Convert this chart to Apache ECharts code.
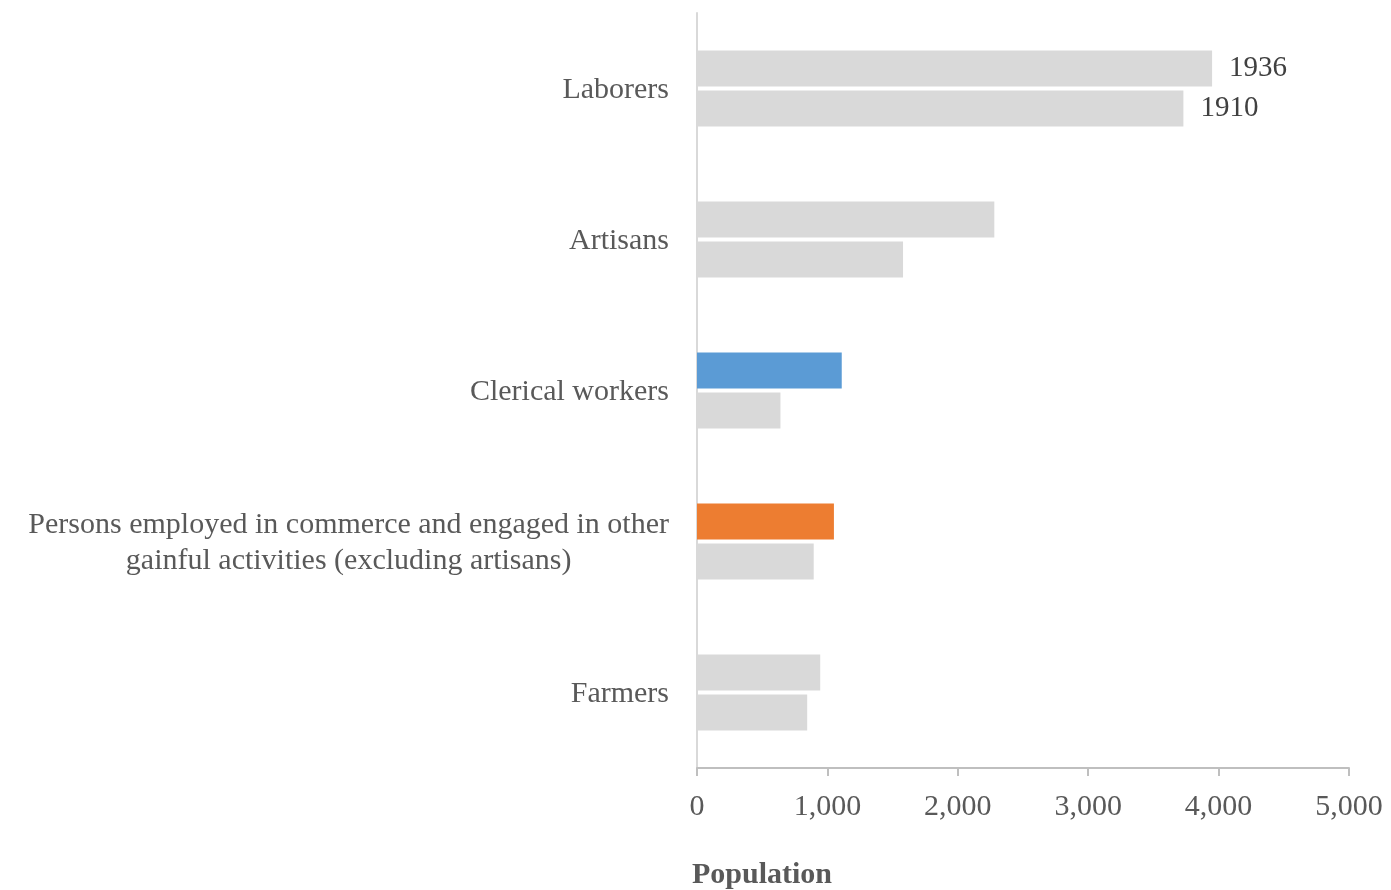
<!DOCTYPE html>
<html>
<head>
<meta charset="utf-8">
<script src="https://cdn.jsdelivr.net/npm/echarts@6/dist/echarts.min.js"></script>
<style>
  html, body { margin: 0; padding: 0; background: #ffffff; }
  #chart { width: 1391px; height: 890px; }
</style>
</head>
<body>
<div id="chart"></div>
<script>
// Occupational groups, top to bottom
const categories = [
  'Laborers',
  'Artisans',
  'Clerical workers',
  'Persons employed in commerce and engaged in other\ngainful activities (excluding artisans)',
  'Farmers'
];
const seriesNames = ['1936', '1910'];
const values1936 = [3950, 2280, 1110, 1050, 945];
const values1910 = [3730, 1580, 640, 895, 845];
const xTicks = [0, 1000, 2000, 3000, 4000, 5000];

const GREY = '#d9d9d9';
const TEXT = '#595959';
const FONT = '"Liberation Serif", "DejaVu Serif", serif';

// Highlighted bars in the 1936 series
const highlight1936 = { 2: '#5b9bd5', 3: '#ed7d31' };

function barData(values, colors) {
  return values.map((v, i) => ({
    value: v,
    itemStyle: { color: (colors && colors[i]) || GREY }
  }));
}

// Only the first group carries the year labels
function yearLabel(name) {
  return {
    show: true,
    position: 'right',
    distance: 17,
    color: '#404040',
    fontFamily: FONT,
    fontSize: 29,
    formatter: (p) => (p.dataIndex === 0 ? name : '')
  };
}

const chart = echarts.init(document.getElementById('chart'));
chart.setOption({
  animation: false,
  backgroundColor: '#ffffff',
  title: {
    text: 'Population',
    left: 687,
    top: 855,
    textStyle: { fontFamily: FONT, fontSize: 30, fontWeight: 'bold', color: TEXT }
  },
  grid: { left: 697, right: 42, top: 13, bottom: 122 },
  xAxis: {
    type: 'value',
    min: xTicks[0],
    max: xTicks[xTicks.length - 1],
    interval: 1000,
    splitLine: { show: false },
    axisLine: { show: true, lineStyle: { color: '#bfbfbf', width: 2 } },
    axisTick: { show: true, length: 8, lineStyle: { color: '#bfbfbf', width: 2 } },
    axisLabel: {
      margin: 24,
      color: TEXT,
      fontFamily: FONT,
      fontSize: 30,
      formatter: (v) => v.toLocaleString('en-US')
    }
  },
  yAxis: {
    type: 'category',
    inverse: true,
    data: categories,
    axisLine: { show: true, lineStyle: { color: '#d9d9d9', width: 2 } },
    axisTick: { show: false },
    axisLabel: {
      margin: 28,
      color: TEXT,
      fontFamily: FONT,
      fontSize: 30,
      lineHeight: 36,
      padding: [3, 0, 0, 0],
      formatter: (v) => v.split('\n').map((s) => '{c|' + s + '}').join('\n'),
      rich: {
        c: { align: 'center', color: TEXT, fontFamily: FONT, fontSize: 30, lineHeight: 36 }
      }
    }
  },
  series: [
    {
      name: seriesNames[0],
      type: 'bar',
      barWidth: 36,
      barGap: '11%',
      data: barData(values1936, highlight1936),
      label: yearLabel(seriesNames[0])
    },
    {
      name: seriesNames[1],
      type: 'bar',
      barWidth: 36,
      barGap: '11%',
      data: barData(values1910),
      label: yearLabel(seriesNames[1])
    }
  ]
});
</script>
</body>
</html>
